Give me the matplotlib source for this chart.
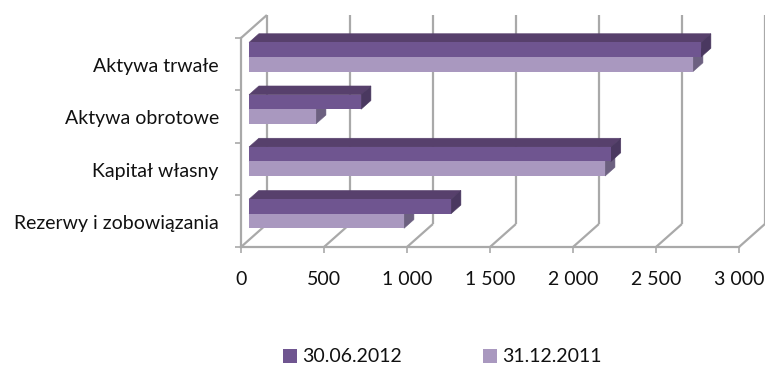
import matplotlib
matplotlib.use("Agg")
import matplotlib.pyplot as plt
from matplotlib.patches import Polygon

plt.rcParams['font.family'] = ['Lato', 'DejaVu Sans']

categories = ["Rezerwy i zobowiązania", "Kapitał własny", "Aktywa obrotowe", "Aktywa trwałe"]
values_2012 = [1217, 2180, 675, 2723]
values_2011 = [934, 2145, 404, 2675]
series_names = ["30.06.2012", "31.12.2011"]
x_ticks = [0, 500, 1000, 1500, 2000, 2500, 3000]
x_tick_labels = ["0", "500", "1 000", "1 500", "2 000", "2 500", "3 000"]

W, H = 765, 365
FONT = 14
fig = plt.figure(figsize=(W / 100, H / 100), dpi=100)
ax = fig.add_axes([241 / W, (H - 247) / H, 498 / W, 209 / H])
ax.set_xlim(0, 3000)
ax.set_ylim(0, 4)

GRID = "#A9A9A9"
# Oblique projection: one unit of depth moves a point right and up.
DEPTH_X, DEPTH_Y = 156.0, 0.44


def project(v, c, d):
    return v + d * DEPTH_X, c + d * DEPTH_Y


def poly(points, color, z):
    ax.add_patch(Polygon([project(*p) for p in points], closed=True, facecolor=color,
                         edgecolor=color, lw=0.4, zorder=z, clip_on=False))


def wall_line(a, b):
    xs, ys = zip(project(*a), project(*b))
    ax.plot(xs, ys, color=GRID, lw=1.6, zorder=1, clip_on=False, solid_capstyle="butt")


# Back wall gridlines with their floor diagonals, plus the left wall edges.
for t in x_ticks:
    wall_line((t, 0, 1), (t, 4, 1))
    wall_line((t, 0, 0), (t, 0, 1))
wall_line((0, 4, 0), (0, 4, 1))

D0, D1 = 0.31, 0.69
BAR_H = 0.278
CENTER = 0.5

styles = [
    (values_2011, -BAR_H / 2, "#A998BF", "#8E7FA6", "#6C6080", series_names[1], 3),
    (values_2012, BAR_H / 2, "#6F5590", "#57406C", "#4A3860", series_names[0], 5),
]
handles = {}
for values, shift, face, top, side, name, z in styles:
    for k, val in enumerate(values):
        c = k + CENTER + shift
        lo, hi = c - BAR_H / 2, c + BAR_H / 2
        poly([(0, hi, D0), (val, hi, D0), (val, hi, D1), (0, hi, D1)], top, z)
        poly([(val, lo, D0), (val, hi, D0), (val, hi, D1), (val, lo, D1)], side, z)
    fx, fy = project(0, 0, D0)
    centers = [k + CENTER + shift + fy for k in range(len(values))]
    handles[name] = ax.barh(centers, values, height=BAR_H, left=fx, color=face,
                            zorder=z + 1, clip_on=False, label=name)

for name in ("left", "bottom"):
    ax.spines[name].set_color(GRID)
    ax.spines[name].set_linewidth(1.6)
for name in ("top", "right"):
    ax.spines[name].set_visible(False)

ax.set_xticks(x_ticks)
ax.set_xticklabels(x_tick_labels, fontsize=FONT, color="#111111")
ax.tick_params(axis="x", length=4, width=1.2, color=GRID, pad=13)
ax.set_yticks(range(5))
ax.set_yticklabels([])
ax.tick_params(axis="y", which="major", length=4.5, width=1.2, color=GRID)
ax.set_yticks([k + 0.48 for k in range(4)], minor=True)
ax.set_yticklabels(categories, minor=True, fontsize=FONT, color="#111111")
ax.tick_params(axis="y", which="minor", length=0, pad=16)

fig.legend(handles=[handles[series_names[0]], handles[series_names[1]]],
           labels=series_names, loc="center", bbox_to_anchor=(442.5 / W, (H - 357) / H),
           ncol=2, frameon=False, fontsize=FONT, handlelength=0.72, handleheight=0.72,
           handletextpad=0.26, columnspacing=4.2, labelcolor="#111111",
           borderpad=0, borderaxespad=0)

fig.savefig("out.png", dpi=100, facecolor="white")
